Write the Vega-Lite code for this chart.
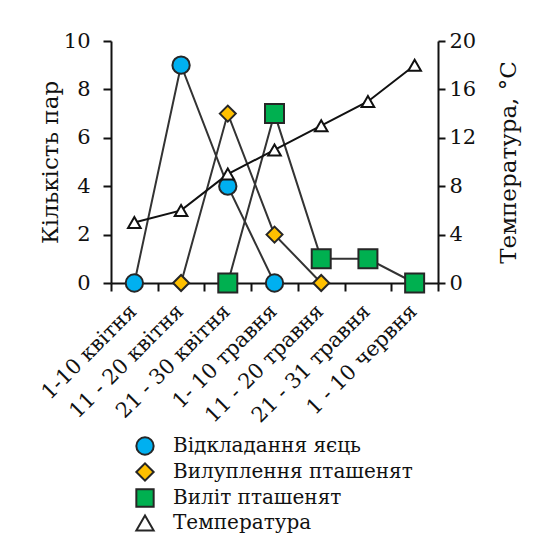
{
  "$schema": "https://vega.github.io/schema/vega-lite/v6.json",
  "width": 327,
  "height": 242,
  "autosize": {"type": "none"},
  "padding": {"left": 111, "top": 41, "right": 121, "bottom": 259},
  "background": "white",
  "config": {
    "view": {"stroke": null},
    "font": "DejaVu Serif",
    "axis": {
      "labelFont": "DejaVu Serif",
      "titleFont": "DejaVu Serif",
      "labelFontSize": 21,
      "titleFontSize": 23,
      "titleFontWeight": "normal",
      "labelColor": "#111111",
      "titleColor": "#111111",
      "domainColor": "#111111",
      "tickColor": "#111111",
      "domainWidth": 2,
      "tickWidth": 2,
      "grid": false,
      "labelFlush": false,
      "labelOverlap": false,
      "labelBound": false
    },
    "legend": {
      "labelFont": "DejaVu Serif",
      "labelFontSize": 20,
      "labelColor": "#111111",
      "labelLimit": 400
    }
  },
  "data": {
    "values": [
      {"period": "1-10 квітня", "series": "Відкладання яєць", "value": 0},
      {"period": "11 - 20 квітня", "series": "Відкладання яєць", "value": 9},
      {"period": "21 - 30 квітня", "series": "Відкладання яєць", "value": 4},
      {"period": "1- 10 травня", "series": "Відкладання яєць", "value": 0},
      {"period": "11 - 20 квітня", "series": "Вилуплення пташенят", "value": 0},
      {"period": "21 - 30 квітня", "series": "Вилуплення пташенят", "value": 7},
      {"period": "1- 10 травня", "series": "Вилуплення пташенят", "value": 2},
      {"period": "11 - 20 травня", "series": "Вилуплення пташенят", "value": 0},
      {"period": "21 - 30 квітня", "series": "Виліт пташенят", "value": 0},
      {"period": "1- 10 травня", "series": "Виліт пташенят", "value": 7},
      {"period": "11 - 20 травня", "series": "Виліт пташенят", "value": 1},
      {"period": "21 - 31 травня", "series": "Виліт пташенят", "value": 1},
      {"period": "1 - 10 червня", "series": "Виліт пташенят", "value": 0},
      {"period": "1-10 квітня", "series": "Температура", "value": 5},
      {"period": "11 - 20 квітня", "series": "Температура", "value": 6},
      {"period": "21 - 30 квітня", "series": "Температура", "value": 9},
      {"period": "1- 10 травня", "series": "Температура", "value": 11},
      {"period": "11 - 20 травня", "series": "Температура", "value": 13},
      {"period": "21 - 31 травня", "series": "Температура", "value": 15},
      {"period": "1 - 10 червня", "series": "Температура", "value": 18}
    ]
  },
  "encoding": {
    "x": {
      "field": "period",
      "type": "nominal",
      "sort": ["1-10 квітня", "11 - 20 квітня", "21 - 30 квітня", "1- 10 травня", "11 - 20 травня", "21 - 31 травня", "1 - 10 червня"],
      "scale": {"type": "band", "paddingInner": 0, "paddingOuter": 0},
      "axis": {
        "title": null,
        "labelAngle": -45,
        "labelFontSize": 21,
        "tickBand": "extent",
        "tickSize": 8,
        "labelPadding": 9,
        "labelOffset": -9,
        "encode": {
          "ticks": {"y": {"value": -8}, "y2": {"value": 8}}
        }
      }
    }
  },
  "layer": [
    {
      "transform": [{"filter": "datum.series !== 'Температура'"}],
      "encoding": {
        "y": {
          "field": "value",
          "type": "quantitative",
          "scale": {"domain": [0, 10]},
          "axis": {
            "title": "Кількість пар",
            "orient": "left",
            "values": [0, 2, 4, 6, 8, 10],
            "tickSize": 8,
            "labelPadding": 13,
            "titlePadding": 1,
            "encode": {
              "ticks": {"x": {"value": -8}, "x2": {"value": 8}}
            }
          }
        }
      },
      "layer": [
        {
          "mark": {"type": "line", "color": "#333333", "strokeWidth": 2},
          "encoding": {"detail": {"field": "series"}}
        },
        {
          "mark": {"type": "point", "filled": true, "stroke": "#262626", "strokeWidth": 2, "opacity": 1},
          "encoding": {
            "shape": {"field": "series", "type": "nominal", "scale": {"domain": ["Відкладання яєць", "Вилуплення пташенят", "Виліт пташенят", "Температура"], "range": ["circle", "diamond", "square", "triangle-up"]}},
            "fill": {
              "field": "series",
              "type": "nominal",
              "scale": {"domain": ["Відкладання яєць", "Вилуплення пташенят", "Виліт пташенят", "Температура"], "range": ["#00B0F0", "#FFC000", "#00B050", "#FFFFFF"]},
              "legend": {
                "title": null,
                "orient": "none",
                "legendX": 24,
                "legendY": 395,
                "direction": "vertical",
                "symbolSize": 300,
                "symbolStrokeColor": "#262626",
                "symbolStrokeWidth": 2,
                "labelOffset": 18,
                "rowPadding": 0
              }
            },
            "size": {
              "condition": [
                {"test": "datum.series === 'Відкладання яєць'", "value": 300},
                {"test": "datum.series === 'Вилуплення пташенят'", "value": 256}
              ],
              "value": 361
            }
          }
        }
      ]
    },
    {
      "transform": [{"filter": "datum.series === 'Температура'"}],
      "encoding": {
        "y": {
          "field": "value",
          "type": "quantitative",
          "scale": {"domain": [0, 20]},
          "axis": {
            "title": "Температура, °C",
            "orient": "right",
            "values": [0, 4, 8, 12, 16, 20],
            "tickSize": 7,
            "labelPadding": 4,
            "titleAngle": 270,
            "titlePadding": 45,
            "encode": {
              "ticks": {"x": {"value": -7}, "x2": {"value": 7}}
            }
          }
        }
      },
      "layer": [
        {
          "mark": {"type": "line", "color": "#111111", "strokeWidth": 2},
          "encoding": {}
        },
        {
          "mark": {"type": "point", "filled": true, "stroke": "#111111", "strokeWidth": 2, "opacity": 1, "size": 160},
          "encoding": {
            "shape": {"field": "series", "type": "nominal"},
            "fill": {"field": "series", "type": "nominal"}
          }
        }
      ]
    }
  ],
  "resolve": {"scale": {"y": "independent"}, "axis": {"y": "independent"}}
}
